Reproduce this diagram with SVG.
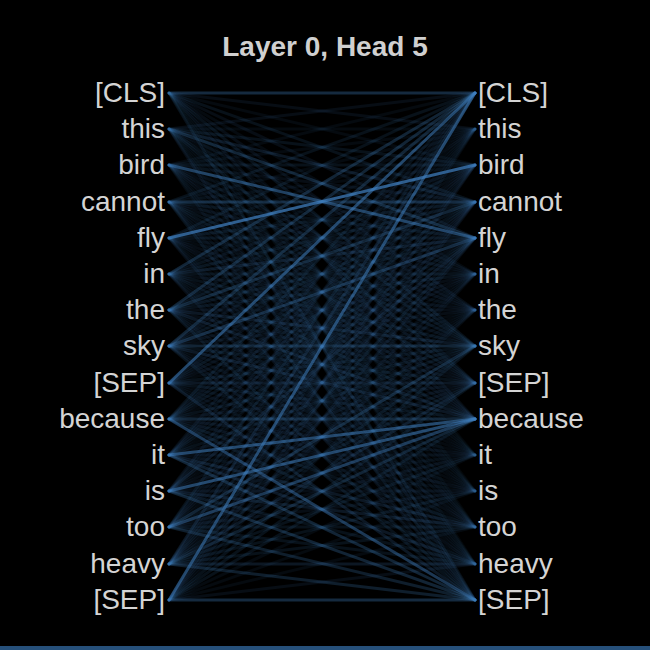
<svg xmlns="http://www.w3.org/2000/svg" width="650" height="650" viewBox="0 0 650 650">
<style>
.bg{fill:#000}
.t{font-family:"Liberation Sans",Arial,Helvetica,sans-serif;font-size:28px;fill:#d4d4d4}
.l{text-anchor:end}
.r{text-anchor:start}
.title{font-family:"Liberation Sans",Arial,Helvetica,sans-serif;font-size:28px;font-weight:bold;fill:#d0d0d0;text-anchor:middle}
#connectors path{stroke:#4080c0;stroke-width:3;fill:none;stroke-linecap:round}
.a{stroke-opacity:.06}.b{stroke-opacity:.08}.c{stroke-opacity:.1}.d{stroke-opacity:.13}.e{stroke-opacity:.18}.f{stroke-opacity:.23}.g{stroke-opacity:.28}.h{stroke-opacity:.33}.i{stroke-opacity:.43}.j{stroke-opacity:.5}.k{stroke-opacity:.55}.m{stroke-opacity:.72}
</style>
<rect class="bg" x="0" y="0" width="650" height="650"/>
<rect x="0" y="646" width="650" height="4" fill="#26507a"/>
<text class="title" x="325" y="56">Layer 0, Head 5</text>
<g id="connectors">
<path class="h" d="M169 93L475 93"/><path class="c" d="M169 93L475 129"/><path class="b" d="M169 93L475 165"/><path class="d" d="M169 93L475 202"/><path class="c" d="M169 93L475 238"/><path class="b" d="M169 93L475 274"/><path class="c" d="M169 93L475 310"/><path class="d" d="M169 93L475 346"/><path class="b" d="M169 93L475 383"/><path class="c" d="M169 93L475 419"/><path class="a" d="M169 93L475 455"/><path class="a" d="M169 93L475 491"/><path class="a" d="M169 93L475 527"/><path class="a" d="M169 93L475 564"/><path class="d" d="M169 93L475 600"/>
<path class="c" d="M169 129L475 93"/><path class="b" d="M169 129L475 129"/><path class="d" d="M169 129L475 165"/><path class="e" d="M169 129L475 202"/><path class="g" d="M169 129L475 238"/><path class="c" d="M169 129L475 274"/><path class="b" d="M169 129L475 310"/><path class="d" d="M169 129L475 346"/><path class="d" d="M169 129L475 383"/><path class="b" d="M169 129L475 419"/><path class="a" d="M169 129L475 455"/><path class="a" d="M169 129L475 491"/><path class="a" d="M169 129L475 527"/><path class="b" d="M169 129L475 564"/><path class="c" d="M169 129L475 600"/>
<path class="b" d="M169 165L475 93"/><path class="b" d="M169 165L475 129"/><path class="d" d="M169 165L475 165"/><path class="c" d="M169 165L475 202"/><path class="j" d="M169 165L475 238"/><path class="b" d="M169 165L475 274"/><path class="c" d="M169 165L475 310"/><path class="d" d="M169 165L475 346"/><path class="c" d="M169 165L475 383"/><path class="c" d="M169 165L475 419"/><path class="a" d="M169 165L475 455"/><path class="b" d="M169 165L475 491"/><path class="b" d="M169 165L475 527"/><path class="a" d="M169 165L475 564"/><path class="b" d="M169 165L475 600"/>
<path class="d" d="M169 202L475 93"/><path class="b" d="M169 202L475 129"/><path class="b" d="M169 202L475 165"/><path class="h" d="M169 202L475 202"/><path class="d" d="M169 202L475 238"/><path class="c" d="M169 202L475 274"/><path class="c" d="M169 202L475 310"/><path class="d" d="M169 202L475 346"/><path class="d" d="M169 202L475 383"/><path class="c" d="M169 202L475 419"/><path class="b" d="M169 202L475 455"/><path class="b" d="M169 202L475 491"/><path class="c" d="M169 202L475 527"/><path class="b" d="M169 202L475 564"/><path class="d" d="M169 202L475 600"/>
<path class="d" d="M169 238L475 93"/><path class="b" d="M169 238L475 129"/><path class="m" d="M169 238L475 165"/><path class="d" d="M169 238L475 202"/><path class="d" d="M169 238L475 238"/><path class="b" d="M169 238L475 274"/><path class="b" d="M169 238L475 310"/><path class="c" d="M169 238L475 346"/><path class="c" d="M169 238L475 383"/><path class="c" d="M169 238L475 419"/><path class="a" d="M169 238L475 455"/><path class="a" d="M169 238L475 491"/><path class="b" d="M169 238L475 527"/><path class="b" d="M169 238L475 564"/><path class="c" d="M169 238L475 600"/>
<path class="g" d="M169 274L475 93"/><path class="b" d="M169 274L475 129"/><path class="c" d="M169 274L475 165"/><path class="d" d="M169 274L475 202"/><path class="e" d="M169 274L475 238"/><path class="d" d="M169 274L475 274"/><path class="c" d="M169 274L475 310"/><path class="d" d="M169 274L475 346"/><path class="c" d="M169 274L475 383"/><path class="d" d="M169 274L475 419"/><path class="b" d="M169 274L475 455"/><path class="b" d="M169 274L475 491"/><path class="b" d="M169 274L475 527"/><path class="b" d="M169 274L475 564"/><path class="c" d="M169 274L475 600"/>
<path class="g" d="M169 310L475 93"/><path class="b" d="M169 310L475 129"/><path class="d" d="M169 310L475 165"/><path class="g" d="M169 310L475 202"/><path class="d" d="M169 310L475 238"/><path class="d" d="M169 310L475 274"/><path class="c" d="M169 310L475 310"/><path class="e" d="M169 310L475 346"/><path class="c" d="M169 310L475 383"/><path class="e" d="M169 310L475 419"/><path class="b" d="M169 310L475 455"/><path class="b" d="M169 310L475 491"/><path class="c" d="M169 310L475 527"/><path class="b" d="M169 310L475 564"/><path class="d" d="M169 310L475 600"/>
<path class="g" d="M169 346L475 93"/><path class="c" d="M169 346L475 129"/><path class="c" d="M169 346L475 165"/><path class="d" d="M169 346L475 202"/><path class="h" d="M169 346L475 238"/><path class="c" d="M169 346L475 274"/><path class="c" d="M169 346L475 310"/><path class="g" d="M169 346L475 346"/><path class="d" d="M169 346L475 383"/><path class="e" d="M169 346L475 419"/><path class="b" d="M169 346L475 455"/><path class="b" d="M169 346L475 491"/><path class="c" d="M169 346L475 527"/><path class="c" d="M169 346L475 564"/><path class="d" d="M169 346L475 600"/>
<path class="k" d="M169 383L475 93"/><path class="b" d="M169 383L475 129"/><path class="c" d="M169 383L475 165"/><path class="d" d="M169 383L475 202"/><path class="c" d="M169 383L475 238"/><path class="c" d="M169 383L475 274"/><path class="b" d="M169 383L475 310"/><path class="d" d="M169 383L475 346"/><path class="e" d="M169 383L475 383"/><path class="d" d="M169 383L475 419"/><path class="b" d="M169 383L475 455"/><path class="b" d="M169 383L475 491"/><path class="b" d="M169 383L475 527"/><path class="b" d="M169 383L475 564"/><path class="e" d="M169 383L475 600"/>
<path class="d" d="M169 419L475 93"/><path class="b" d="M169 419L475 129"/><path class="c" d="M169 419L475 165"/><path class="d" d="M169 419L475 202"/><path class="d" d="M169 419L475 238"/><path class="c" d="M169 419L475 274"/><path class="b" d="M169 419L475 310"/><path class="d" d="M169 419L475 346"/><path class="c" d="M169 419L475 383"/><path class="g" d="M169 419L475 419"/><path class="c" d="M169 419L475 455"/><path class="c" d="M169 419L475 491"/><path class="d" d="M169 419L475 527"/><path class="d" d="M169 419L475 564"/><path class="i" d="M169 419L475 600"/>
<path class="c" d="M169 455L475 93"/><path class="b" d="M169 455L475 129"/><path class="c" d="M169 455L475 165"/><path class="c" d="M169 455L475 202"/><path class="d" d="M169 455L475 238"/><path class="b" d="M169 455L475 274"/><path class="b" d="M169 455L475 310"/><path class="d" d="M169 455L475 346"/><path class="c" d="M169 455L475 383"/><path class="k" d="M169 455L475 419"/><path class="c" d="M169 455L475 455"/><path class="b" d="M169 455L475 491"/><path class="e" d="M169 455L475 527"/><path class="e" d="M169 455L475 564"/><path class="g" d="M169 455L475 600"/>
<path class="c" d="M169 491L475 93"/><path class="b" d="M169 491L475 129"/><path class="b" d="M169 491L475 165"/><path class="c" d="M169 491L475 202"/><path class="e" d="M169 491L475 238"/><path class="b" d="M169 491L475 274"/><path class="b" d="M169 491L475 310"/><path class="c" d="M169 491L475 346"/><path class="c" d="M169 491L475 383"/><path class="k" d="M169 491L475 419"/><path class="b" d="M169 491L475 455"/><path class="c" d="M169 491L475 491"/><path class="e" d="M169 491L475 527"/><path class="d" d="M169 491L475 564"/><path class="g" d="M169 491L475 600"/>
<path class="d" d="M169 527L475 93"/><path class="b" d="M169 527L475 129"/><path class="b" d="M169 527L475 165"/><path class="c" d="M169 527L475 202"/><path class="c" d="M169 527L475 238"/><path class="b" d="M169 527L475 274"/><path class="b" d="M169 527L475 310"/><path class="g" d="M169 527L475 346"/><path class="d" d="M169 527L475 383"/><path class="i" d="M169 527L475 419"/><path class="c" d="M169 527L475 455"/><path class="c" d="M169 527L475 491"/><path class="d" d="M169 527L475 527"/><path class="d" d="M169 527L475 564"/><path class="f" d="M169 527L475 600"/>
<path class="e" d="M169 564L475 93"/><path class="b" d="M169 564L475 129"/><path class="c" d="M169 564L475 165"/><path class="c" d="M169 564L475 202"/><path class="d" d="M169 564L475 238"/><path class="c" d="M169 564L475 274"/><path class="c" d="M169 564L475 310"/><path class="d" d="M169 564L475 346"/><path class="e" d="M169 564L475 383"/><path class="f" d="M169 564L475 419"/><path class="d" d="M169 564L475 455"/><path class="d" d="M169 564L475 491"/><path class="d" d="M169 564L475 527"/><path class="e" d="M169 564L475 564"/><path class="f" d="M169 564L475 600"/>
<path class="k" d="M169 600L475 93"/><path class="b" d="M169 600L475 129"/><path class="c" d="M169 600L475 165"/><path class="c" d="M169 600L475 202"/><path class="c" d="M169 600L475 238"/><path class="b" d="M169 600L475 274"/><path class="b" d="M169 600L475 310"/><path class="d" d="M169 600L475 346"/><path class="d" d="M169 600L475 383"/><path class="d" d="M169 600L475 419"/><path class="b" d="M169 600L475 455"/><path class="b" d="M169 600L475 491"/><path class="b" d="M169 600L475 527"/><path class="c" d="M169 600L475 564"/><path class="h" d="M169 600L475 600"/>
</g>
<g id="left-0"><text class="t l" x="165" y="102">[CLS]</text></g>
<g id="left-1"><text class="t l" x="165" y="138">this</text></g>
<g id="left-2"><text class="t l" x="165" y="174">bird</text></g>
<g id="left-3"><text class="t l" x="165" y="211">cannot</text></g>
<g id="left-4"><text class="t l" x="165" y="247">fly</text></g>
<g id="left-5"><text class="t l" x="165" y="283">in</text></g>
<g id="left-6"><text class="t l" x="165" y="319">the</text></g>
<g id="left-7"><text class="t l" x="165" y="355">sky</text></g>
<g id="left-8"><text class="t l" x="165" y="392">[SEP]</text></g>
<g id="left-9"><text class="t l" x="165" y="428">because</text></g>
<g id="left-10"><text class="t l" x="165" y="464">it</text></g>
<g id="left-11"><text class="t l" x="165" y="500">is</text></g>
<g id="left-12"><text class="t l" x="165" y="536">too</text></g>
<g id="left-13"><text class="t l" x="165" y="573">heavy</text></g>
<g id="left-14"><text class="t l" x="165" y="609">[SEP]</text></g>
<g id="right-0"><text class="t r" x="478" y="102">[CLS]</text></g>
<g id="right-1"><text class="t r" x="478" y="138">this</text></g>
<g id="right-2"><text class="t r" x="478" y="174">bird</text></g>
<g id="right-3"><text class="t r" x="478" y="211">cannot</text></g>
<g id="right-4"><text class="t r" x="478" y="247">fly</text></g>
<g id="right-5"><text class="t r" x="478" y="283">in</text></g>
<g id="right-6"><text class="t r" x="478" y="319">the</text></g>
<g id="right-7"><text class="t r" x="478" y="355">sky</text></g>
<g id="right-8"><text class="t r" x="478" y="392">[SEP]</text></g>
<g id="right-9"><text class="t r" x="478" y="428">because</text></g>
<g id="right-10"><text class="t r" x="478" y="464">it</text></g>
<g id="right-11"><text class="t r" x="478" y="500">is</text></g>
<g id="right-12"><text class="t r" x="478" y="536">too</text></g>
<g id="right-13"><text class="t r" x="478" y="573">heavy</text></g>
<g id="right-14"><text class="t r" x="478" y="609">[SEP]</text></g>
</svg>
